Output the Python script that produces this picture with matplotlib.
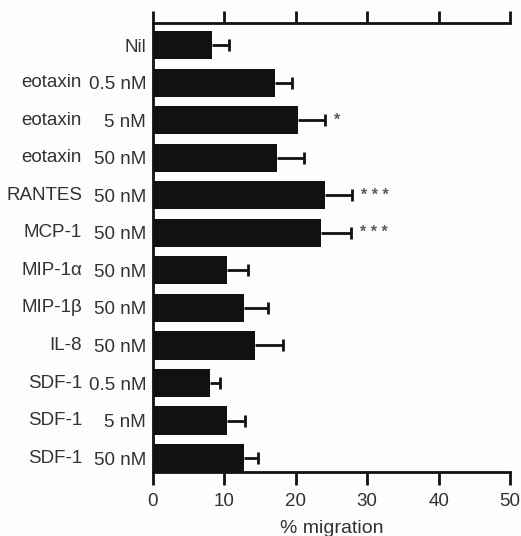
import matplotlib
matplotlib.use("Agg")
import matplotlib.pyplot as plt
import numpy as np

names = ["", "eotaxin", "eotaxin", "eotaxin", "RANTES", "MCP-1", "MIP-1\u03b1",
         "MIP-1\u03b2", "IL-8", "SDF-1", "SDF-1", "SDF-1"]
concs = ["Nil", "0.5 nM", "5 nM", "50 nM", "50 nM", "50 nM", "50 nM",
         "50 nM", "50 nM", "0.5 nM", "5 nM", "50 nM"]
values = [8.3, 17.1, 20.3, 17.3, 24.1, 23.5, 10.4, 12.8, 14.3, 8.0, 10.4, 12.8]
errors = [2.3, 2.4, 3.8, 3.8, 3.8, 4.2, 2.9, 3.3, 3.9, 1.4, 2.5, 1.9]
signif = ["", "", "*", "", "***", "***", "", "", "", "", "", ""]
xticks = [0, 10, 20, 30, 40, 50]

plt.rcParams['font.family'] = ['Liberation Sans', 'DejaVu Sans']
txt = '#2e3430'
fig = plt.figure(figsize=(5.21, 5.36), dpi=100)
fig.patch.set_facecolor('#fdfdfb')
W, H = 521, 536
ax = fig.add_axes([153 / W, 1 - 472 / H, (510 - 153) / W, (472 - 23) / H])
ax.set_facecolor('#fdfdfb')

y = np.arange(len(values))
v = np.array(values)
e = np.array(errors)
ax.barh(y, v, height=0.75, color='#111111', edgecolor='none', zorder=2)
ax.hlines(y, v, v + e, color='#111111', lw=2.0, zorder=3)
ax.vlines(v + e, y - 0.16, y + 0.16, color='#111111', lw=2.0, zorder=3)
for yi, xi, s in zip(y, v + e, signif):
    if s:
        ax.text(xi + 1.3, yi, " ".join(s), ha='left', va='center',
                fontsize=11.5, color='#5a5a5a', fontweight='bold')

ax.set_xlim(0, 50)
ax.set_ylim(11.37, -0.59)
ax.set_xticks(xticks)
ax.set_xticklabels([str(t) for t in xticks], fontsize=13.5, color=txt)
ax.tick_params(axis='x', top=True, labeltop=False, direction='out',
               length=9, width=2, color='#111111', pad=6)
ax.set_yticks(y)
ax.set_yticklabels(concs, fontsize=13.5, color=txt)
ax.tick_params(axis='y', length=0, pad=5)
for yi, n in zip(y, names):
    if n:
        ax.text(-71 / 357, yi, n, transform=ax.get_yaxis_transform(),
                ha='right', va='center', fontsize=13.5, color=txt)

for s in ['top', 'bottom', 'left']:
    ax.spines[s].set_linewidth(2)
    ax.spines[s].set_color('#111111')
ax.spines['right'].set_visible(False)
ax.set_xlabel('% migration', fontsize=14, color=txt, labelpad=7)

fig.savefig('out.png', dpi=100, facecolor=fig.get_facecolor())
